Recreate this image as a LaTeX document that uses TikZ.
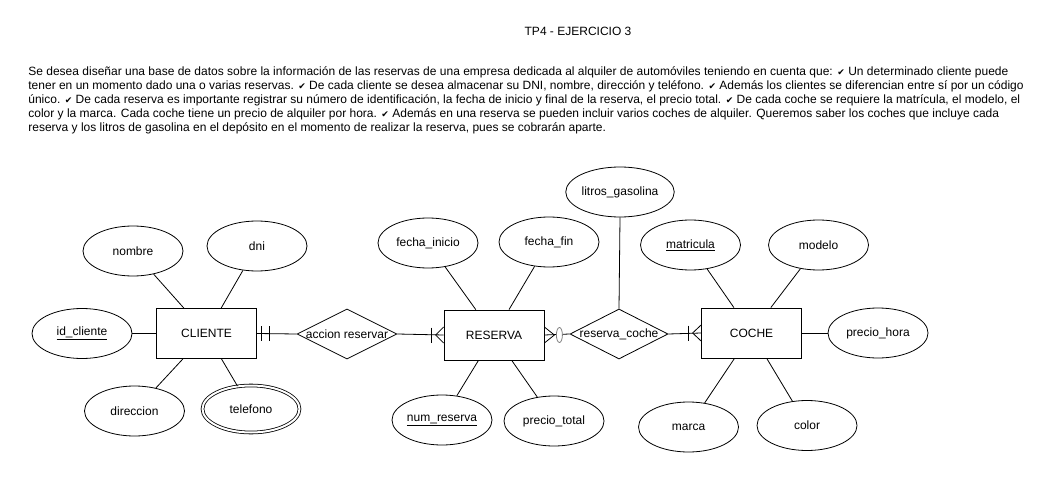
\documentclass[tikz,border=0pt]{standalone}
\usepackage{fontspec}
\setmainfont{Liberation Sans}
\newfontfamily\chkfont{DejaVu Sans}
\usetikzlibrary{shapes.geometric}
\newcommand{\ck}{{\chkfont\fontsize{9}{14}\selectfont ✔}}
\begin{document}
\begin{tikzpicture}[x=1pt,y=-1pt, font=\fontsize{12}{14}\selectfont, line width=0.8pt,
  ent/.style={draw, rectangle, minimum width=100pt, minimum height=50pt, inner sep=0pt},
  att/.style={draw, ellipse, minimum width=100pt, minimum height=50pt, inner sep=0pt},
  rel/.style={draw, diamond, minimum width=100pt, minimum height=50pt, inner sep=0pt},
  txt/.style={anchor=base west, inner sep=0pt},
  cmark/.style={line width=0.8pt}]
\useasboundingbox (0,0) rectangle (1064,478);
\fill[white] (0,0) rectangle (1064,478);

\node[anchor=base, inner sep=0pt] (title) at (578,36) {TP4 - EJERCICIO 3};
\node[txt] (p1) at (28,76) {Se desea diseñar una base de datos sobre la información de las reservas de una empresa dedicada al alquiler de automóviles teniendo en cuenta que: \ck{} Un determinado cliente puede};
\node[txt] (p2) at (28,90) {tener en un momento dado una o varias reservas. \ck{} De cada cliente se desea almacenar su DNI, nombre, dirección y teléfono. \ck{} Además los clientes se diferencian entre sí por un código};
\node[txt] (p3) at (28,104) {único. \ck{} De cada reserva es importante registrar su número de identificación, la fecha de inicio y final de la reserva, el precio total. \ck{} De cada coche se requiere la matrícula, el modelo, el};
\node[txt] (p4) at (28,118) {color y la marca. Cada coche tiene un precio de alquiler por hora. \ck{} Además en una reserva se pueden incluir varios coches de alquiler. Queremos saber los coches que incluye cada};
\node[txt] (p5) at (28,132) {reserva y los litros de gasolina en el depósito en el momento de realizar la reserva, pues se cobrarán aparte.};

% entities
\node[ent] (cli) at (206.5,333.5) {CLIENTE};
\node[ent] (res) at (494,335) {RESERVA};
\node[ent] (coc) at (751.5,333) {COCHE};

% relationships
\node[rel] (acc) at (347,334) {\makebox[0pt]{accion reservar}};
\node[rel, minimum width=98pt] (rc) at (619,334) {\makebox[0pt]{reserva\_coche}};

% attributes
\node[att] (nom) at (133,251) {nombre};
\node[att] (dni) at (257,246) {dni};
\node[att] (idc) at (82,333.5) {\underline{id\_cliente}};
\node[att] (dir) at (134.5,411) {direccion};
\node[att, double, double distance=2pt, minimum width=97pt, minimum height=47pt] (tel) at (251,409) {telefono};

\node[att] (fi) at (428,243) {fecha\_inicio};
\node[att] (ff) at (549,242) {fecha\_fin};
\node[att] (nr) at (442,420) {\underline{num\_reserva}};
\node[att] (pt) at (554,421) {precio\_total};
\node[att] (lg) at (620,192) {litros\_gasolina};

\node[att] (mat) at (690.5,245) {\underline{matricula}};
\node[att] (mod) at (818.5,245) {modelo};
\node[att] (ph) at (878,333) {precio\_hora};
\node[att] (mar) at (688.5,427) {marca};
\node[att] (col) at (807,425.5) {color};

% attribute links
\draw (nom) -- (cli);
\draw (dni) -- (cli);
\draw (idc) -- (cli);
\draw (dir) -- (cli);
\draw (tel) -- (cli);
\draw (fi) -- (res);
\draw (ff) -- (res);
\draw (nr) -- (res);
\draw (pt) -- (res);
\draw (lg.south) -- (rc.north);
\draw (mat) -- (coc);
\draw (mod) -- (coc);
\draw (ph) -- (coc);
\draw (mar) -- (coc);
\draw (col) -- (coc);

% relationship links
\draw (cli.east) -- (acc.west);
\draw (acc.east) -- (res.west);
\draw (res.east) -- (rc.west);
\draw (rc.east) -- (coc.west);

% cardinality marks
\draw[cmark] ([xshift=4.5pt]cli.east) ++(0,-7.5) -- ++(0,15);
\draw[cmark] ([xshift=12pt]cli.east) ++(0,-7.5) -- ++(0,15);

\draw[cmark] ([xshift=-12pt]res.west) ++(0,-7.5) -- ++(0,15);
\draw[cmark] ([yshift=8pt]res.west) -- ([xshift=-8pt]res.west) -- ([yshift=-8pt]res.west);

\draw[cmark] ([yshift=8pt]res.east) -- ([xshift=10pt]res.east) -- ([yshift=-8pt]res.east);
\draw[cmark, draw=gray, fill=white] ([xshift=15pt]res.east) ellipse [x radius=3pt, y radius=7.5pt];

\draw[cmark] ([xshift=-13pt]coc.west) ++(0,-7.5) -- ++(0,15);
\draw[cmark] ([yshift=8pt]coc.west) -- ([xshift=-8.5pt]coc.west) -- ([yshift=-8pt]coc.west);
\end{tikzpicture}
\end{document}
